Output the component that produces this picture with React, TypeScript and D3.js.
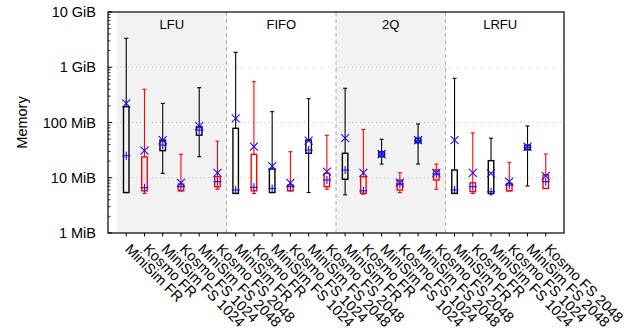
import React from "react";
import * as d3 from "d3";

const policies = ["LFU", "FIFO", "2Q", "LRFU"];
const configs = [
  "MiniSim FR",
  "Kosmo FR",
  "MiniSim FS 1024",
  "Kosmo FS 1024",
  "MiniSim FS 2048",
  "Kosmo FS 2048",
];

// memory in MiB, one entry per (policy, config)
const whiskerLow = [5.4, 5.2, 12, 5.8, 24, 6.2, 5.2, 5.2, 5.4, 5.8, 5.4, 6.2, 4.9, 5.1, 17.7, 5.4, 17.7, 6.2, 5.2, 5.2, 5.1, 5.8, 7.1, 6.4];
const q1 = [5.4, 5.8, 31, 5.8, 59, 6.9, 5.2, 5.8, 5.4, 5.8, 27.7, 6.9, 9.4, 5.2, 24, 6.0, 43, 9.1, 5.2, 5.6, 5.2, 5.8, 32, 6.4];
const median = [25, 6.6, 39, 6.9, 73, 8.5, 6.0, 6.7, 6.4, 6.9, 31.8, 9.1, 13.8, 5.8, 26.9, 7.7, 47, 11.7, 6.0, 6.9, 5.6, 7.4, 35.6, 8.5];
const q3 = [193, 23.8, 48, 7.7, 84, 10.4, 78.5, 26.6, 14.4, 7.4, 48, 12.0, 27.7, 10.4, 29.6, 9.1, 52, 13.8, 13.8, 8.1, 20.4, 7.9, 39, 11.2];
const whiskerHigh = [3340, 400, 222, 26.6, 427, 46, 1860, 548, 157, 29.6, 270, 58.6, 416, 75, 49.6, 12.3, 94, 17.7, 631, 65, 52, 19, 86.5, 26.9];
const mean = [222, 31, 48, 8.1, 86, 12.3, 119, 36.5, 16.3, 8.1, 47, 12.9, 52, 12.3, 26.9, 8.1, 48, 12.3, 48, 12.3, 12.0, 8.5, 36.5, 10.8];

const yTickValues = [1, 10, 100, 1000, 10000];
const yTickLabels = ["1 MiB", "10 MiB", "100 MiB", "1 GiB", "10 GiB"];

const W = 631;
const H = 332;
const margin = { top: 12, right: 67, bottom: 99, left: 108 };
const font = "Arial, 'Liberation Sans', sans-serif";

export default function App() {
  const x0 = margin.left;
  const x1 = W - margin.right;
  const y0 = margin.top;
  const y1 = H - margin.bottom;
  const n = policies.length * configs.length;

  const x = d3.scaleLinear().domain([0, n + 1]).range([x0, x1]);
  const y = d3.scaleLog().domain([1, 10000]).range([y1, y0]);

  const minor: number[] = [];
  for (let d = 0; d < 4; d++) for (let k = 2; k < 10; k++) minor.push(k * 10 ** d);

  const items = d3.range(n).map((i) => ({
    i,
    pos: i + 1,
    label: configs[i % configs.length],
    color: i % 2 === 0 ? "#000" : "#f00",
  }));

  const boxW = 5.5;
  const capW = 4;
  const mk = 4;

  return (
    <svg width={W} height={H} style={{ position: "absolute", left: 0, top: 0 }} fontFamily={font}>
      <rect x={0} y={0} width={W} height={H} fill="#fff" />
      {policies.map((p, g) => {
        const a = x(g * 6 + 0.5);
        const b = x(g * 6 + 6.5);
        return (
          <g key={p}>
            {g % 2 === 0 && <rect x={a} y={y0} width={b - a} height={y1 - y0} fill="#f2f2f2" />}
            <text x={(a + b) / 2} y={y0 + 17} textAnchor="middle" fontSize={13}>
              {p}
            </text>
            {g > 0 && (
              <line x1={a} x2={a} y1={y0} y2={y1} stroke="#b0b0b0" strokeWidth={1} strokeDasharray="4,3" />
            )}
          </g>
        );
      })}
      {[10, 100, 1000].map((v) => (
        <line key={v} x1={x0} x2={x1} y1={y(v)} y2={y(v)} stroke="#c8c8c8" strokeWidth={1} strokeDasharray="1,3" />
      ))}
      {items.map((d) => {
        const cx = x(d.pos);
        const i = d.i;
        return (
          <g key={i} stroke={d.color} fill="none">
            <g strokeWidth={1.1}>
              <line x1={cx} x2={cx} y1={y(whiskerHigh[i])} y2={y(q3[i])} />
              <line x1={cx} x2={cx} y1={y(q1[i])} y2={y(whiskerLow[i])} />
              <line x1={cx - capW / 2} x2={cx + capW / 2} y1={y(whiskerHigh[i])} y2={y(whiskerHigh[i])} />
              <line x1={cx - capW / 2} x2={cx + capW / 2} y1={y(whiskerLow[i])} y2={y(whiskerLow[i])} />
            </g>
            <rect
              x={cx - boxW / 2}
              y={y(q3[i])}
              width={boxW}
              height={Math.max(1, y(q1[i]) - y(q3[i]))}
              strokeWidth={1.4}
            />
            <g stroke="#1010ff" strokeWidth={1.1}>
              <line x1={cx - mk} x2={cx + mk} y1={y(median[i])} y2={y(median[i])} />
              <line x1={cx} x2={cx} y1={y(median[i]) - mk} y2={y(median[i]) + mk} />
              <line x1={cx - mk} x2={cx + mk} y1={y(mean[i]) - mk} y2={y(mean[i]) + mk} />
              <line x1={cx - mk} x2={cx + mk} y1={y(mean[i]) + mk} y2={y(mean[i]) - mk} />
            </g>
          </g>
        );
      })}
      <rect x={x0} y={y0} width={x1 - x0} height={y1 - y0} fill="none" stroke="#000" strokeWidth={1.2} />
      {minor.map((v) => (
        <line key={v} x1={x0} x2={x0 + 2.5} y1={y(v)} y2={y(v)} stroke="#000" strokeWidth={0.8} />
      ))}
      {yTickValues.map((v, k) => (
        <g key={v}>
          <line x1={x0} x2={x0 + 4} y1={y(v)} y2={y(v)} stroke="#000" strokeWidth={1} />
          <text x={x0 - 12} y={y(v)} dy="0.35em" textAnchor="end" fontSize={14.5}>
            {yTickLabels[k]}
          </text>
        </g>
      ))}
      <text transform={`translate(27,${(y0 + y1) / 2}) rotate(-90)`} textAnchor="middle" fontSize={14.5}>
        Memory
      </text>
      {items.map((d) => {
        const cx = x(d.pos);
        return (
          <g key={d.i}>
            <line x1={cx} x2={cx} y1={y1} y2={y1 + 3.5} stroke="#000" strokeWidth={1} />
            <text transform={`translate(${cx - 2},${y1 + 17}) rotate(45)`} fontSize={14.5}>
              {d.label}
            </text>
          </g>
        );
      })}
    </svg>
  );
}
